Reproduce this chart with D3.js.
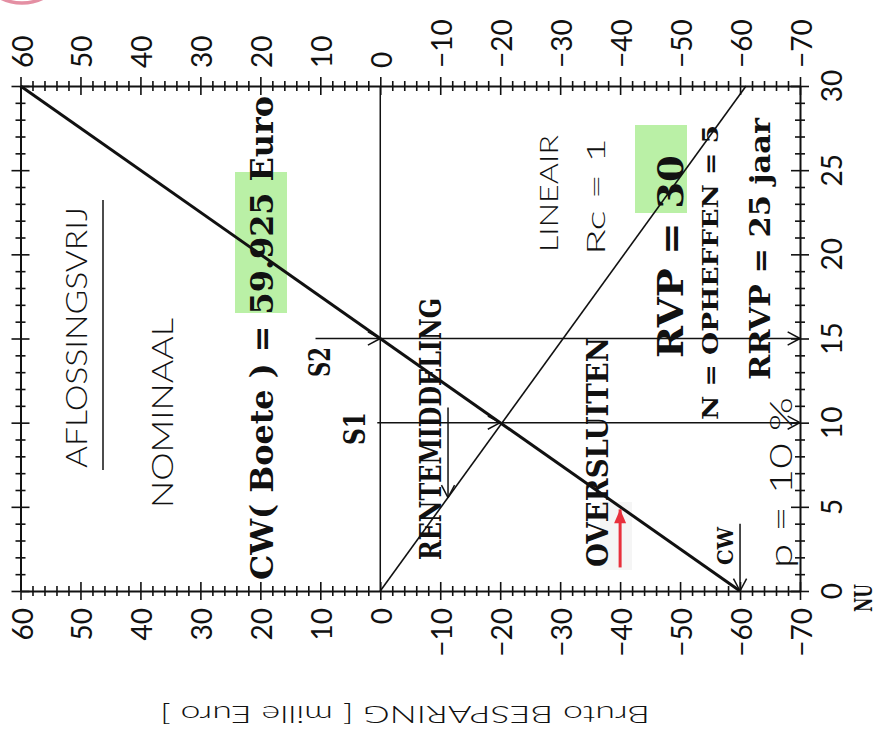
<!DOCTYPE html>
<html><head><meta charset="utf-8">
<script src="https://cdn.jsdelivr.net/npm/d3@7"></script>
<style>body{margin:0;background:#fff}</style>
</head><body><svg id="c" width="883" height="738"></svg>
<script>
// ---------- data (value in mille Euro, years) ----------
const valueTicks = [60,50,40,30,20,10,0,-10,-20,-30,-40,-50,-60,-70];
const yearTicks = [0,5,10,15,20,25,30];
const nominalLine = [[60,30],[-60,0]];      // [value, year]
const lineairLine = [[0,0],[-61,30]];
const zeroLine = [[0,0],[0,30]];
const s2Line = [[10.8,15],[-70,15]];
const s1Line = [[0.5,10],[-70,10]];
const rentemiddelingArrow = [[-11.3,10.9],[-11.3,5.55]];
const cwArrow = [[-60,4],[-60,0]];
const redArrow = [[-40,1.4],[-40,4.85]];
const arrowTips = [
  {line:s2Line, tip:[0,15]}, {line:s2Line, tip:[-70,15]},
  {line:s1Line, tip:[-20,10]}, {line:s1Line, tip:[-70,10]},
  {line:rentemiddelingArrow, tip:rentemiddelingArrow[1]},
  {line:cwArrow, tip:cwArrow[1]}
];

// ---------- layout ----------
const svg = d3.select("#c");
const x = d3.scaleLinear().domain([60,-70]).range([20.5,800]);
const y = d3.scaleLinear().domain([0,30]).range([591,86]);
const light = "Lato, 'Open Sans', 'DejaVu Sans', sans-serif";
const serif = "'DejaVu Serif', 'Liberation Serif', serif";

// pink stamp fragment
svg.append("ellipse").attr("cx",22).attr("cy",-30).attr("rx",40).attr("ry",33)
  .attr("fill","none").attr("stroke","#d8607c").attr("stroke-width",3.5).attr("opacity",0.7);

// highlights
svg.append("rect").attr("x",235).attr("y",172).attr("width",52).attr("height",141)
  .attr("fill","#aeed96").attr("opacity",0.85);
svg.append("rect").attr("x",635).attr("y",125).attr("width",52).attr("height",88)
  .attr("fill","#aeed96").attr("opacity",0.85);
svg.append("rect").attr("x",600).attr("y",502).attr("width",32).attr("height",68)
  .attr("fill","#f5f5f5");

// axes
const vMinor = d3.range(60,-71,-2);
const tMinor = d3.range(0,31,1);
function styleAxis(g, horizontal, majorStep){
  g.select(".domain").attr("stroke","#111").attr("stroke-width",2);
  g.selectAll(".tick line").attr("stroke","#111").attr("stroke-width",1.6)
    .each(function(d){
      const L = (d % majorStep === 0) ? 9 : 5;
      if (horizontal) d3.select(this).attr("y1",-L).attr("y2",L);
      else d3.select(this).attr("x1",-L).attr("x2",L);
    });
}
const gTop = svg.append("g").attr("transform",`translate(0,${y(30)})`)
  .call(d3.axisTop(x).tickValues(vMinor).tickFormat("").tickSizeOuter(0));
styleAxis(gTop,true,10);
const gBot = svg.append("g").attr("transform",`translate(0,${y(0)})`)
  .call(d3.axisBottom(x).tickValues(vMinor).tickFormat("").tickSizeOuter(0));
styleAxis(gBot,true,10);
const gLeft = svg.append("g").attr("transform",`translate(${x(60)},0)`)
  .call(d3.axisLeft(y).tickValues(tMinor).tickFormat("").tickSizeOuter(0));
styleAxis(gLeft,false,5);
const gRight = svg.append("g").attr("transform",`translate(${x(-70)},0)`)
  .call(d3.axisRight(y).tickValues(tMinor).tickFormat("").tickSizeOuter(0));
styleAxis(gRight,false,5);

const fmt = v => v < 0 ? "\u2212" + Math.abs(v) : String(v);
valueTicks.forEach(v => {
  svg.append("text").attr("transform",`translate(${x(v)+12},68) rotate(-90)`)
    .attr("font-family",light).attr("font-size",28).attr("fill","#111")
    .attr("text-anchor","start").text(fmt(v));
  svg.append("text").attr("transform",`translate(${x(v)+12},608) rotate(-90)`)
    .attr("font-family",light).attr("font-size",28).attr("fill","#111")
    .attr("text-anchor","end").text(fmt(v));
});
yearTicks.forEach(t => {
  svg.append("text").attr("transform",`translate(842,${y(t)}) rotate(-90)`)
    .attr("font-family",light).attr("font-size",28).attr("fill","#111")
    .attr("text-anchor","middle").text(String(t));
});

// lines
const line = d3.line().x(d=>x(d[0])).y(d=>y(d[1]));
function draw(data, w, col){
  svg.append("path").attr("d",line(data)).attr("fill","none")
    .attr("stroke",col||"#111").attr("stroke-width",w);
}
draw(zeroLine,1.5);
draw(lineairLine,1.6);
draw(s2Line,1.5);
draw(s1Line,1.5);
draw(rentemiddelingArrow,1.5);
draw(cwArrow,1.5);
draw(nominalLine,3);
draw(redArrow,3,"#e8303c");

function head(lineData, tip, col, w, len){
  const a = lineData[0], b = lineData[1];
  let dx = x(b[0])-x(a[0]), dy = y(b[1])-y(a[1]);
  const n = Math.hypot(dx,dy); dx/=n; dy/=n;
  const tx = x(tip[0]), ty = y(tip[1]);
  const ang = 28*Math.PI/180;
  [ang,-ang].forEach(s=>{
    const c=Math.cos(s), si=Math.sin(s);
    const rx = -(dx*c - dy*si), ry = -(dx*si + dy*c);
    svg.append("line").attr("x1",tx).attr("y1",ty)
      .attr("x2",tx+rx*len).attr("y2",ty+ry*len)
      .attr("stroke",col).attr("stroke-width",w);
  });
}
arrowTips.forEach(a => head(a.line, a.tip, "#111", 1.5, 14));
(function(){ // red filled head
  const tx=x(redArrow[1][0]), ty=y(redArrow[1][1]);
  svg.append("path").attr("d",`M${tx},${ty} L${tx-6},${ty+14} L${tx+6},${ty+14} Z`)
    .attr("fill","#e8303c");
})();

// annotations (rotated text)
function rt(str, bx, by, len, size, fam, weight, opts={}){
  svg.append("text").attr("transform",`translate(${bx},${by}) rotate(${opts.rot||-90})`)
    .attr("font-family",fam).attr("font-size",size).attr("font-weight",weight)
    .attr("fill","#111").attr("text-anchor",opts.anchor||"start")
    .attr("textLength",len).attr("lengthAdjust","spacingAndGlyphs")
    .text(str);
}
rt("AFLOSSINGSVRIJ",87,468,261,30,light,300);
svg.append("line").attr("x1",103).attr("x2",103).attr("y1",200).attr("y2",470)
  .attr("stroke","#111").attr("stroke-width",1.5);
rt("NOMINAAL",173,508,190,30,light,300);
rt("CW(  Boete  )  =  59.925  Euro",273,580,484,31,serif,"bold");
rt("S2",330,377,30,30,serif,"bold");
rt("S1",365,445,33,30,serif,"bold");
rt("RENTEMIDDELING",441,560,262,30,serif,"bold");
rt("OVERSLUITEN",608,567,230,29,serif,"bold");
rt("LINEAIR",558,252,117,25,light,300);
rt("Rc = 1",605,255,117,25,light,300);
rt("RVP  =  30",683,358,203,36,serif,"bold");
rt("N  =  OPHEFFEN  =  5",718,420,295,22,serif,"bold");
rt("RRVP  =  25  jaar",770,380,262,27,serif,"bold");
rt("p = 10 %",792,568,171,32,light,300);
rt("CW",733,565,38,22,serif,"bold");
rt("NU",872,612,28,24,serif,"bold");
rt("Bruto BESPARING [ mille Euro ]",405,706,490,24,light,300,{rot:180,anchor:"middle"});
</script></body></html>
